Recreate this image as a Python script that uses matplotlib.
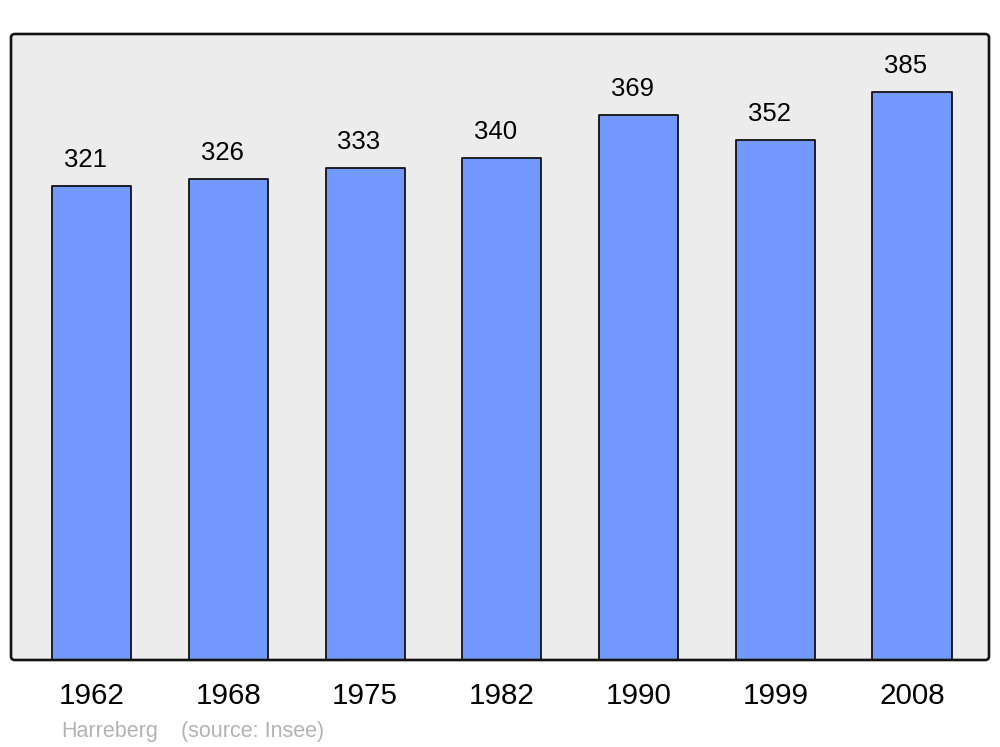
import matplotlib
matplotlib.use("Agg")
import matplotlib.pyplot as plt
from matplotlib.patches import FancyBboxPatch

years = ["1962", "1968", "1975", "1982", "1990", "1999", "2008"]
population = [321, 326, 333, 340, 369, 352, 385]
footer_name = "Harreberg"
footer_source = "(source: Insee)"

plt.rcParams['font.family'] = ['Liberation Sans', 'DejaVu Sans']

W, H = 1000, 747
fig = plt.figure(figsize=(W / 100, H / 100), dpi=100)
fig.patch.set_facecolor("white")
left, right, top, bottom = 11, 989, 34, 660
ax = fig.add_axes([left / W, (H - bottom) / H, (right - left) / W, (bottom - top) / H])
ax.patch.set_visible(False)
for s in ax.spines.values():
    s.set_visible(False)

frame_bg = FancyBboxPatch((0, 0), 1, 1, boxstyle="round,pad=0,rounding_size=0.004",
                          mutation_aspect=(right - left) / (bottom - top),
                          transform=ax.transAxes, facecolor="#ececec",
                          edgecolor="none", zorder=0, clip_on=False)
ax.add_patch(frame_bg)
frame = FancyBboxPatch((0, 0), 1, 1, boxstyle="round,pad=0,rounding_size=0.004",
                       mutation_aspect=(right - left) / (bottom - top),
                       transform=ax.transAxes, facecolor="none",
                       edgecolor="#111111", linewidth=1.9, zorder=5, clip_on=False)
ax.add_patch(frame)

x = list(range(len(years)))
bars = ax.bar(x, population, width=0.578, color="#7399ff", edgecolor="#111111",
              linewidth=1.3, zorder=2)
for b in bars:
    b.set_joinstyle("round")

ax.set_xlim(-0.589, 6.563)
ax.set_ylim(0, 424.1)

for xi, v in zip(x, population):
    ax.annotate(str(v), (xi, v), xytext=(-6, 26), textcoords="offset pixels",
                ha="center", va="center", fontsize=18.5, color="black")

ax.set_xticks(x)
ax.set_xticklabels(years, fontsize=21.3)
ax.tick_params(axis="x", length=0, pad=16)
ax.set_yticks([])

fig.text(61 / W, 1 - 731 / H, footer_name, fontsize=15.5, color="#b3b3b3",
         ha="left", va="center")
fig.text(181 / W, 1 - 731 / H, footer_source, fontsize=15.5, color="#b3b3b3",
         ha="left", va="center")

fig.savefig("out.png", dpi=100)
